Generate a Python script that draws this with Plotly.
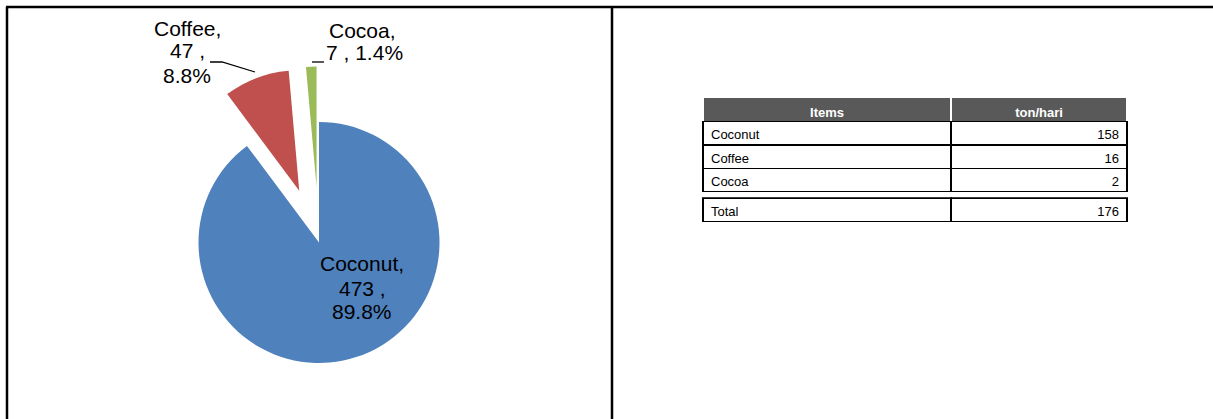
import plotly.graph_objects as go

# ---------------- data ----------------
crops = ["Coconut", "Coffee", "Cocoa"]
crop_values = [473, 47, 7]
crop_shares = [89.8, 8.8, 1.4]
crop_pull = [0, 0.46, 0.46]
crop_colors = ["#4F81BD", "#C0504D", "#9BBB59"]

table_items = ["Coconut", "Coffee", "Cocoa"]
table_ton_hari = [158, 16, 2]
table_header = ["Items", "ton/hari"]
total_label = "Total"

# ---------------- geometry helpers ----------------
W, H = 1213, 419
FONT = "Liberation Sans, Arial, sans-serif"
HEAD_BG = "#595959"


def px(x):
    return x / W


def py(y):
    return 1 - y / H


fig = go.Figure()

# pie: centre (319, 242.5), radius 120.5
cx, cy, r = 319, 242.5, 120.5
avail = r * (1 + max(crop_pull))
fig.add_trace(go.Pie(
    labels=crops,
    values=crop_shares,
    pull=crop_pull,
    sort=False,
    direction="clockwise",
    rotation=0,
    textinfo="none",
    hoverinfo="label+value",
    marker=dict(colors=crop_colors, line=dict(width=0)),
    domain=dict(x=[px(cx - 200), px(cx + 200)], y=[py(cy + avail), py(cy - avail)]),
    showlegend=False,
))

TX = [px(703), px(1127)]
CW = [248, 176]
ROW_H = 23.3


def table_row(values, top, height, fill, line_color, font_color, align):
    fig.add_trace(go.Table(
        domain=dict(x=TX, y=[py(min(top + 60, H)), py(top)]),
        columnwidth=CW,
        header=dict(
            values=values,
            fill_color=fill,
            line=dict(color=line_color, width=1.5),
            font=dict(family=FONT, size=13, color=font_color),
            align=align,
            height=height,
        ),
        cells=dict(values=[[], []], height=0.1, line=dict(width=0)),
    ))


# header row
table_row(["<b>%s</b>" % h for h in table_header], 97, 24.5, HEAD_BG, "white", "white", "center")

# item rows
top = 121.7
for item, val in zip(table_items, table_ton_hari):
    table_row([item, val], top, ROW_H, "white", "black", "black", ["left", "right"])
    top += ROW_H

# total row (double line above it)
table_row([total_label, sum(table_ton_hari)], top + 6.6, ROW_H + 0.1, "white", "black", "black",
          ["left", "right"])

# ---------------- pie labels ----------------
annotations = []


def add_lines(lines, x, ys):
    for t, y in zip(lines, ys):
        annotations.append(dict(
            x=px(x), y=py(y), xref="paper", yref="paper", text=t, showarrow=False,
            xanchor="center", yanchor="middle", font=dict(family=FONT, size=21, color="black"),
        ))


add_lines(["%s," % crops[0], "%d ," % crop_values[0], "%.1f%%" % crop_shares[0]], 362, [263.7, 288, 311.3])
add_lines(["%s," % crops[1], "%d ," % crop_values[1], "%.1f%%" % crop_shares[1]], 187, [28, 51, 75.7])
add_lines(["%s," % crops[2]], 362, [31])
add_lines(["%d , %.1f%%" % (crop_values[2], crop_shares[2])], 364, [53])

shapes = [
    # frame
    dict(type="line", xref="paper", yref="paper", x0=px(6), x1=1, y0=py(7), y1=py(7),
         line=dict(color="black", width=2.5)),
    dict(type="line", xref="paper", yref="paper", x0=px(7), x1=px(7), y0=py(7), y1=0,
         line=dict(color="black", width=2.5)),
    dict(type="line", xref="paper", yref="paper", x0=px(612), x1=px(612), y0=py(7), y1=0,
         line=dict(color="black", width=2.5)),
    # leader lines
    dict(type="path", xref="paper", yref="paper",
         path="M %f,%f L %f,%f L %f,%f" % (px(210), py(62), px(222), py(62), px(255), py(72)),
         line=dict(color="black", width=1.3)),
    dict(type="line", xref="paper", yref="paper", x0=px(312), x1=px(324), y0=py(62), y1=py(62),
         line=dict(color="black", width=1.3)),
]

fig.update_layout(
    width=W, height=H,
    margin=dict(l=0, r=0, t=0, b=0),
    paper_bgcolor="white",
    plot_bgcolor="white",
    annotations=annotations,
    shapes=shapes,
    font=dict(family=FONT),
)

fig.write_html("out.html")
